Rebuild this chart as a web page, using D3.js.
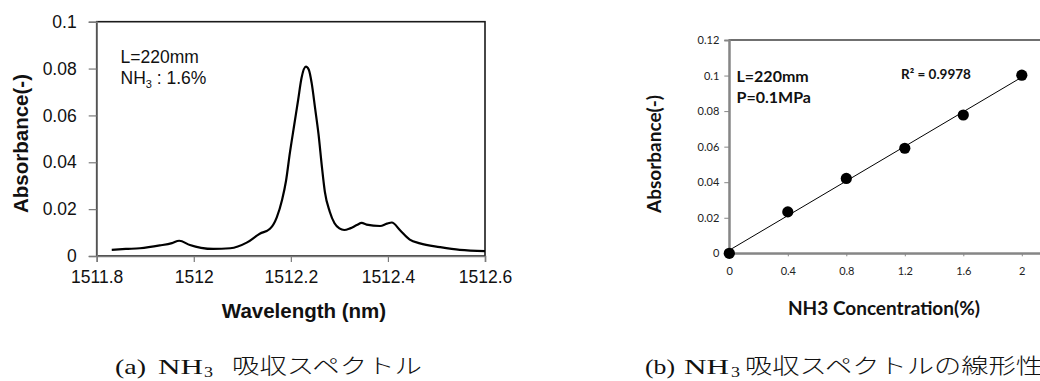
<!DOCTYPE html>
<html>
<head>
<meta charset="utf-8">
<script src="https://cdn.jsdelivr.net/npm/d3@7"></script>
<style>
  html, body { margin: 0; padding: 0; background: #fff; }
  svg { display: block; }
</style>
</head>
<body>
<svg id="chart" width="1040" height="381"></svg>
<script>
// ---------- Data: (a) NH3 absorption spectrum ----------
const wavelength = [
  1511.831, 1511.860, 1511.889, 1511.930, 1511.955, 1511.970, 1511.992, 1512.015,
  1512.040, 1512.075, 1512.109, 1512.136, 1512.157, 1512.171, 1512.182, 1512.190,
  1512.198, 1512.207, 1512.215, 1512.222, 1512.231, 1512.237, 1512.243, 1512.250,
  1512.257, 1512.264, 1512.270, 1512.280, 1512.290, 1512.300, 1512.310, 1512.322,
  1512.336, 1512.346, 1512.356, 1512.384, 1512.398, 1512.408, 1512.425, 1512.445,
  1512.466, 1512.507, 1512.548, 1512.600
];
const absorbance = [
  0.0026, 0.0030, 0.0033, 0.0045, 0.0055, 0.0065, 0.0047, 0.0035,
  0.0030, 0.0033, 0.0057, 0.0095, 0.0116, 0.0165, 0.0240, 0.0320,
  0.0440, 0.0560, 0.0666, 0.0760, 0.0808, 0.0795, 0.0737, 0.0630,
  0.0520, 0.0380, 0.0275, 0.0190, 0.0140, 0.0118, 0.0111, 0.0118,
  0.0132, 0.0141, 0.0134, 0.0128, 0.0138, 0.0143, 0.0110, 0.0070,
  0.0054, 0.0038, 0.0026, 0.0021
];
const specXTicks = [1511.8, 1512, 1512.2, 1512.4, 1512.6];
const specXTickLabels = ["1511.8", "1512", "1512.2", "1512.4", "1512.6"];
const specYTicks = [0, 0.02, 0.04, 0.06, 0.08, 0.1];
const specYTickLabels = ["0", "0.02", "0.04", "0.06", "0.08", "0.1"];

// ---------- Data: (b) linearity ----------
const concentration = [0, 0.4, 0.8, 1.2, 1.6, 2];
const linAbsorbance = [0, 0.0233, 0.0421, 0.0591, 0.0778, 0.1002];
const linXTicks = [0, 0.4, 0.8, 1.2, 1.6, 2];
const linXTickLabels = ["0", "0.4", "0.8", "1.2", "1.6", "2"];
const linYTicks = [0, 0.02, 0.04, 0.06, 0.08, 0.1, 0.12];
const linYTickLabels = ["0", "0.02", "0.04", "0.06", "0.08", "0.1", "0.12"];

const svg = d3.select("#chart");

// ================= (a) Spectrum =================
const A = { left: 96.7, right: 485, top: 21.7, bottom: 256 };
const xA = d3.scaleLinear().domain([1511.8, 1512.6]).range([A.left, A.right]);
const yA = d3.scaleLinear().domain([0, 0.1]).range([A.bottom, A.top]);
const fontA = "'Liberation Sans', Arial, sans-serif";

const gA = svg.append("g");
gA.append("rect")
  .attr("x", A.left).attr("y", A.top)
  .attr("width", A.right - A.left).attr("height", A.bottom - A.top)
  .attr("fill", "none").attr("stroke", "#1a1a1a").attr("stroke-width", 1.6);

const axYA = gA.append("g").attr("transform", `translate(${A.left},0)`)
  .call(d3.axisLeft(yA).tickValues(specYTicks)
    .tickFormat((d, i) => specYTickLabels[i]).tickSize(8).tickPadding(12));
const axXA = gA.append("g").attr("transform", `translate(0,${A.bottom})`)
  .call(d3.axisBottom(xA).tickValues(specXTicks)
    .tickFormat((d, i) => specXTickLabels[i]).tickSize(6).tickPadding(9));
[axYA, axXA].forEach(ax => {
  ax.select(".domain").attr("stroke", "#7a7a7a").attr("stroke-width", 1.6);
  ax.selectAll(".tick line").attr("stroke", "#7a7a7a").attr("stroke-width", 1.2);
  ax.selectAll(".tick text").attr("fill", "#111").style("font-family", fontA).style("font-size", "17.5px");
});

const specLine = d3.line()
  .x((d, i) => xA(wavelength[i]))
  .y((d, i) => yA(absorbance[i]))
  .curve(d3.curveMonotoneX);
gA.append("path")
  .attr("d", specLine(wavelength))
  .attr("fill", "none").attr("stroke", "#000").attr("stroke-width", 2.2)
  .attr("stroke-linejoin", "round");

gA.append("text").attr("x", 120.5).attr("y", 62.7)
  .style("font-family", fontA).style("font-size", "17.5px").attr("fill", "#111")
  .text("L=220mm");
const nh3A = gA.append("text").attr("x", 120.5).attr("y", 83.5)
  .style("font-family", fontA).style("font-size", "17.5px").attr("fill", "#111");
nh3A.append("tspan").text("NH");
nh3A.append("tspan").attr("dy", 4).style("font-size", "11px").text("3");
nh3A.append("tspan").attr("dy", -4).text(" : 1.6%");

gA.append("text")
  .attr("transform", "translate(28,143.5) rotate(-90)")
  .attr("text-anchor", "middle")
  .style("font-family", fontA).style("font-size", "20.5px").style("font-weight", "bold")
  .attr("fill", "#111")
  .text("Absorbance(-)");
gA.append("text")
  .attr("x", 304).attr("y", 318)
  .attr("text-anchor", "middle")
  .style("font-family", fontA).style("font-size", "20.5px").style("font-weight", "bold")
  .attr("fill", "#111")
  .text("Wavelength (nm)");

// ================= (b) Linearity =================
const B = { left: 729.3, right: 1080.3, top: 40, bottom: 253.3 };
const xB = d3.scaleLinear().domain([0, 2.4]).range([B.left, B.right]);
const yB = d3.scaleLinear().domain([0, 0.12]).range([B.bottom, B.top]);
const fontB = "Lato, 'Open Sans', sans-serif";

const gB = svg.append("g");
gB.append("rect")
  .attr("x", B.left).attr("y", B.top)
  .attr("width", B.right - B.left).attr("height", B.bottom - B.top)
  .attr("fill", "none").attr("stroke", "#4d4d4d").attr("stroke-width", 1.6);

const axYB = gB.append("g").attr("transform", `translate(${B.left},0)`)
  .call(d3.axisLeft(yB).tickValues(linYTicks)
    .tickFormat((d, i) => linYTickLabels[i]).tickSize(5).tickPadding(5));
const axXB = gB.append("g").attr("transform", `translate(0,${B.bottom})`)
  .call(d3.axisBottom(xB).tickValues(linXTicks)
    .tickFormat((d, i) => linXTickLabels[i]).tickSize(3).tickPadding(10.5));
[axYB, axXB].forEach(ax => {
  ax.select(".domain").attr("stroke", "#868686").attr("stroke-width", 1.8);
  ax.selectAll(".tick line").attr("stroke", "#868686").attr("stroke-width", 1);
  ax.selectAll(".tick text").attr("fill", "#222").style("font-family", fontB).style("font-size", "11px");
});

// Linear trendline (least squares from the data)
const mx = d3.mean(concentration), my = d3.mean(linAbsorbance);
const sxy = d3.sum(concentration, (x, i) => (x - mx) * (linAbsorbance[i] - my));
const sxx = d3.sum(concentration, x => (x - mx) * (x - mx));
const slope = sxy / sxx, intercept = my - slope * mx;
const xEnds = [d3.min(concentration), d3.max(concentration)];
gB.append("line")
  .attr("x1", xB(xEnds[0])).attr("y1", yB(intercept + slope * xEnds[0]))
  .attr("x2", xB(xEnds[1])).attr("y2", yB(intercept + slope * xEnds[1]))
  .attr("stroke", "#000").attr("stroke-width", 1);

gB.selectAll("circle.pt").data(concentration).enter().append("circle")
  .attr("class", "pt")
  .attr("cx", d => xB(d))
  .attr("cy", (d, i) => yB(linAbsorbance[i]))
  .attr("r", 5.6).attr("fill", "#000");

gB.append("text").attr("x", 736.5).attr("y", 81.5)
  .style("font-family", fontB).style("font-size", "16px").style("font-weight", "bold")
  .attr("fill", "#111").text("L=220mm");
gB.append("text").attr("x", 736.5).attr("y", 103.2)
  .style("font-family", fontB).style("font-size", "16px").style("font-weight", "bold")
  .attr("fill", "#111").text("P=0.1MPa");
gB.append("text").attr("x", 901).attr("y", 79.3)
  .style("font-family", fontB).style("font-size", "13.5px").style("font-weight", "bold")
  .attr("fill", "#111").text("R² = 0.9978");

gB.append("text")
  .attr("transform", "translate(661,154) rotate(-90)")
  .attr("text-anchor", "middle")
  .style("font-family", fontB).style("font-size", "19px").style("font-weight", "bold")
  .attr("fill", "#111")
  .text("Absorbance(-)");
gB.append("text")
  .attr("x", 884).attr("y", 315)
  .attr("text-anchor", "middle")
  .style("font-family", fontB).style("font-size", "19px").style("font-weight", "bold")
  .attr("fill", "#111")
  .text("NH3 Concentration(%)");

// ================= Captions =================
const serif = "'Liberation Serif', 'DejaVu Serif', serif";
const cjk = "'Noto Sans CJK JP', sans-serif";
function caption(parts) {
  parts.forEach(p => {
    const t = svg.append("text")
      .attr("x", p.x).attr("y", p.y)
      .style("font-family", p.cjk ? cjk : serif)
      .style("font-size", p.size + "px")
      .style("font-weight", p.cjk ? 300 : 400)
      .attr("fill", "#111")
      .text(p.t);
    if (p.w) t.attr("textLength", p.w).attr("lengthAdjust", "spacingAndGlyphs");
  });
}
caption([
  { t: "(a)", x: 115, y: 373.5, size: 21, w: 31 },
  { t: "NH", x: 158, y: 373.5, size: 21, w: 45 },
  { t: "3", x: 204, y: 376.5, size: 14, w: 9 },
  { t: "吸収スペクトル", x: 232, y: 373, size: 21, w: 190, cjk: true }
]);
caption([
  { t: "(b)", x: 645, y: 373.5, size: 21, w: 30 },
  { t: "NH", x: 684, y: 373.5, size: 21, w: 45 },
  { t: "3", x: 731, y: 376.5, size: 14, w: 9 },
  { t: "吸収スペクトルの線形性", x: 745, y: 373, size: 21, w: 298, cjk: true }
]);
</script>
</body>
</html>
